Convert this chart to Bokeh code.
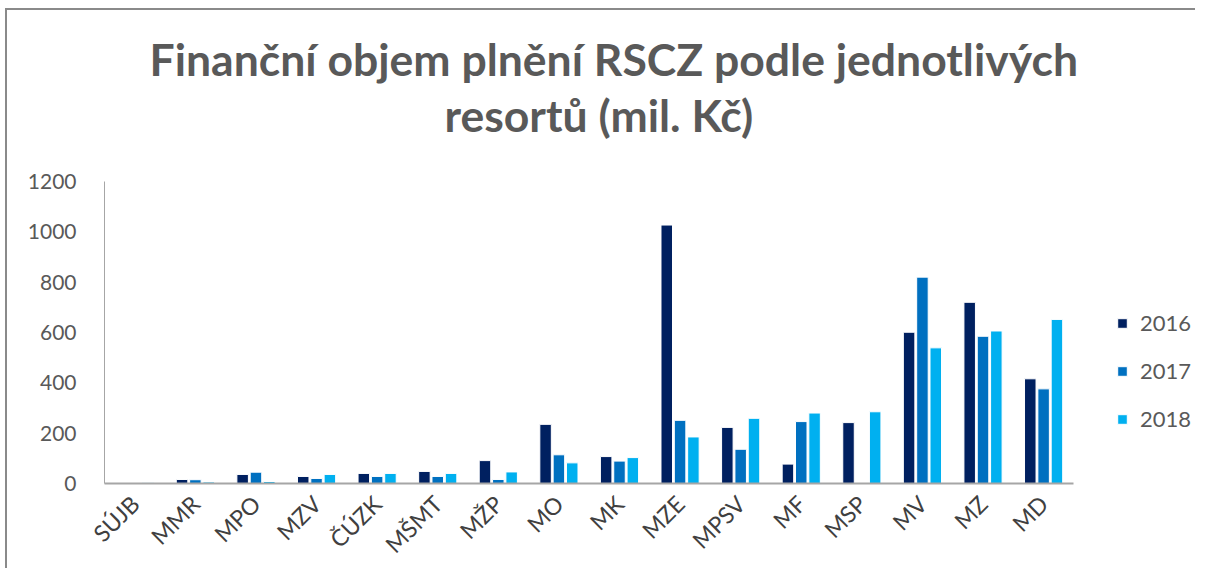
from math import pi
from bokeh.plotting import figure
from bokeh.models import ColumnDataSource, Range1d, Legend, LegendItem, Title, FixedTicker
from bokeh.transform import dodge
from bokeh.embed import file_html
from bokeh.resources import INLINE

categories = ["SÚJB", "MMR", "MPO", "MZV", "ČÚZK", "MŠMT", "MŽP", "MO", "MK", "MZE",
              "MPSV", "MF", "MSP", "MV", "MZ", "MD"]
v2016 = [0, 16, 36, 28, 40, 48, 91, 235, 107, 1027, 223, 77, 242, 601, 720, 416]
v2017 = [1, 15, 45, 20, 28, 28, 16, 114, 89, 251, 136, 246, 0, 820, 585, 376]
v2018 = [3, 6, 8, 36, 40, 40, 46, 82, 103, 185, 259, 280, 285, 539, 606, 652]
years = ["2016", "2017", "2018"]
colors = ["#002060", "#0070C0", "#00B0F0"]
title_lines = ["Finanční objem plnění RSCZ podle jednotlivých", "resortů (mil. Kč)"]

idx = list(range(len(categories)))
src = ColumnDataSource(dict(x=idx, cat=categories, y2016=v2016, y2017=v2017, y2018=v2018))

p = figure(x_range=Range1d(-0.5, 17.54), y_range=Range1d(0, 1200),
           width=1190, height=560, output_backend="svg", toolbar_location=None,
           min_border_left=97, min_border_right=0, min_border_top=171, min_border_bottom=10)
p.styles = {"border-top": "2px solid #8a8a8a", "border-left": "2px solid #8a8a8a",
            "margin-top": "8px", "margin-left": "5px"}

t2 = Title(text=title_lines[1], align="left", offset=340, text_font="Lato",
           text_font_style="bold", text_font_size="44.5px", text_color="#595959",
           standoff=82)
try:
    t1 = Title(text=title_lines[0], align="left", offset=45, text_font="Lato",
               text_font_style="bold", text_font_size="44.5px", text_color="#595959",
               standoff=-80)
except Exception:
    t2.standoff = 52
    t1 = Title(text=title_lines[0], align="left", offset=45, text_font="Lato",
               text_font_style="bold", text_font_size="44.5px", text_color="#595959",
               standoff=0)
p.add_layout(t2, "above")
p.add_layout(t1, "above")

offs = [-0.22, 0.0, 0.22]
renderers = []
for yr, col, off in zip(years, colors, offs):
    r = p.vbar(x=dodge("x", off), top="y" + yr, width=0.19,
               source=src, fill_color=col, line_color="white", line_width=1)
    renderers.append(r)

legend = Legend(items=[LegendItem(label=y, renderers=[r]) for y, r in zip(years, renderers)],
                location=(1012, 51), label_text_font="Lato", label_text_font_size="22px",
                label_text_color="#595959", glyph_width=12, glyph_height=12,
                spacing=21, border_line_color=None, margin=0, padding=0,
                label_standoff=12, background_fill_alpha=0)
p.add_layout(legend)

p.outline_line_color = None
p.grid.grid_line_color = None

p.yaxis.ticker = [0, 200, 400, 600, 800, 1000, 1200]
p.yaxis.axis_line_color = "#A6A6A6"
p.yaxis.axis_line_width = 1
p.yaxis.major_tick_line_color = None
p.yaxis.minor_tick_line_color = None
p.yaxis.major_label_text_font = "Lato"
p.yaxis.major_label_text_font_size = "21px"
p.yaxis.major_label_text_color = "#595959"
p.yaxis.major_label_standoff = 22

p.xaxis.ticker = FixedTicker(ticks=idx)
p.xaxis.major_label_overrides = {i: c for i, c in zip(idx, categories)}
p.xaxis.bounds = (-0.5, 15.5)
p.xaxis.axis_line_color = "#A6A6A6"
p.xaxis.axis_line_width = 2
p.xaxis.major_tick_line_color = None
p.xaxis.minor_tick_line_color = None
p.xaxis.major_label_orientation = pi / 4
p.xaxis.major_label_text_font = "Lato"
p.xaxis.major_label_text_font_size = "23px"
p.xaxis.major_label_text_color = "#404040"
p.xaxis.major_label_standoff = 10

open("out.html", "w").write(file_html(p, INLINE))
